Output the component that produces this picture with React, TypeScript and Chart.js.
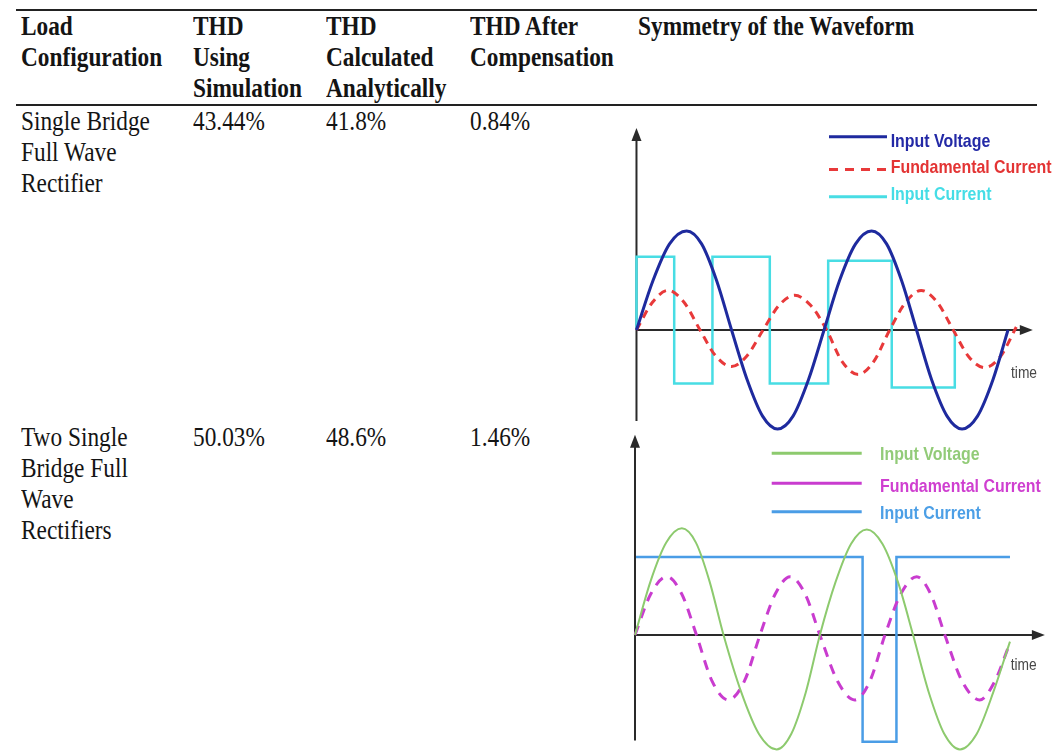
import React, { useEffect, useRef } from "react";
import { Chart, registerables } from "chart.js";

Chart.register(...registerables);

// ---------------- Table content ----------------
const headerCells: string[][] = [
  ["Load", "Configuration"],
  ["THD", "Using", "Simulation"],
  ["THD", "Calculated", "Analytically"],
  ["THD After", "Compensation"],
  ["Symmetry of the Waveform"],
];
const loadConfigurations: string[][] = [
  ["Single Bridge", "Full Wave", "Rectifier"],
  ["Two Single", "Bridge Full", "Wave", "Rectifiers"],
];
const thdSimulation = ["43.44%", "50.03%"];
const thdAnalytical = ["41.8%", "48.6%"];
const thdCompensated = ["0.84%", "1.46%"];

// ---------------- Waveform 1 (single bridge) ----------------
// x: phase in degrees of the input voltage, y: per-unit of voltage peak
const w1VoltageX = [0, 32, 64, 97, 126, 155, 184, 214, 244, 273, 303, 333, 363, 393, 424, 455, 484, 513, 542, 571, 601, 630, 660, 690, 719];
const w1VoltageY = [0, 0.5, 0.87, 1, 0.87, 0.5, 0, -0.5, -0.87, -1, -0.87, -0.5, 0, 0.5, 0.87, 1, 0.87, 0.5, 0, -0.5, -0.87, -1, -0.87, -0.5, 0];
const w1FundX = [0, 31, 61, 92, 123, 153, 184, 214, 245, 276, 306, 337, 368, 398, 429, 459, 490, 521, 551, 582, 613, 643, 674, 704, 735];
const w1FundY = [0, 0.28, 0.4, 0.28, 0, -0.26, -0.37, -0.26, 0, 0.25, 0.35, 0.25, 0, -0.32, -0.45, -0.32, 0, 0.28, 0.4, 0.28, 0, -0.27, -0.38, -0.27, 0.03];
const w1CurrentX = [0, 0, 73, 73, 147, 147, 258, 258, 371, 371, 494, 494, 616, 616];
const w1CurrentY = [0, 0.74, 0.74, -0.54, -0.54, 0.74, 0.74, -0.54, -0.54, 0.7, 0.7, -0.58, -0.58, 0];

// ---------------- Waveform 2 (two single bridges) ----------------
const w2VoltageX = [0, 30, 60, 90, 117, 143, 170, 204, 238, 272, 300, 328, 355, 385, 415, 445, 475, 505, 534, 564, 594, 624, 656, 688, 720];
const w2VoltageY = [0, 0.49, 0.84, 0.97, 0.84, 0.49, 0, -0.52, -0.9, -1.04, -0.9, -0.52, 0, 0.48, 0.83, 0.96, 0.83, 0.48, 0, -0.52, -0.9, -1.04, -0.9, -0.52, -0.06];
const w2FundX = [0, 30, 61, 90, 118, 148, 179, 210, 240, 269, 298, 327, 355, 389, 422, 451, 480, 510, 541, 568, 595, 628, 662, 691, 720];
const w2FundY = [0, 0.37, 0.53, 0.37, 0, -0.42, -0.59, -0.42, 0, 0.37, 0.53, 0.37, 0, -0.42, -0.59, -0.42, 0, 0.37, 0.53, 0.37, 0, -0.42, -0.59, -0.42, -0.07];
const w2CurrentX = [2, 437, 437, 502, 502, 720];
const w2CurrentY = [0.71, 0.71, -0.97, -0.97, 0.71, 0.71];

const seriesLabels = ["Input Voltage", "Fundamental Current", "Input Current"];
const timeLabel = "time";

// ---------------- Types ----------------
type Trace = { xs: number[]; ys: number[]; color: string; width: number; dash?: number[]; curved: boolean };
type Key = { color: string; textColor: string; dash?: number[]; width: number; lineY: number; textY: number };
type WaveProps = {
  left: number; top: number; width: number; height: number;
  xMin: number; xMax: number; yMin: number; yMax: number;
  yAxisFrom: number; yAxisTo: number; xAxisTo: number;
  traces: Trace[]; labels: string[]; keys: Key[];
  keyX0: number; keyX1: number; keyTextX: number;
  timeX: number; timeY: number;
};

const SANS = "'Liberation Sans', Arial, sans-serif";
const SERIF = "'Liberation Serif', 'Times New Roman', serif";

function drawSqueezed(ctx: CanvasRenderingContext2D, text: string, x: number, y: number, sx: number) {
  ctx.save();
  ctx.translate(x, y);
  ctx.scale(sx, 1);
  ctx.fillText(text, 0, 0);
  ctx.restore();
}

const wavePlugin = {
  id: "waveDecor",
  beforeDatasetsDraw(chart: any, _args: any, opts: any) {
    const { ctx, scales } = chart;
    const xs = scales.x, ys = scales.y;
    const x0 = xs.getPixelForValue(0);
    const y0 = ys.getPixelForValue(0);
    const yTop = ys.getPixelForValue(opts.yAxisTo);
    const yBot = ys.getPixelForValue(opts.yAxisFrom);
    const xEnd = xs.getPixelForValue(opts.xAxisTo);
    ctx.save();
    ctx.strokeStyle = "#2a2a2a";
    ctx.fillStyle = "#2a2a2a";
    ctx.lineWidth = 2;
    ctx.beginPath();
    ctx.moveTo(x0, yBot);
    ctx.lineTo(x0, yTop + 8);
    ctx.stroke();
    ctx.beginPath();
    ctx.moveTo(x0, yTop);
    ctx.lineTo(x0 - 5, yTop + 13);
    ctx.lineTo(x0 + 5, yTop + 13);
    ctx.closePath();
    ctx.fill();
    ctx.beginPath();
    ctx.moveTo(x0, y0);
    ctx.lineTo(xEnd - 8, y0);
    ctx.stroke();
    ctx.beginPath();
    ctx.moveTo(xEnd, y0);
    ctx.lineTo(xEnd - 13, y0 - 5);
    ctx.lineTo(xEnd - 13, y0 + 5);
    ctx.closePath();
    ctx.fill();
    ctx.restore();
  },
  afterDatasetsDraw(chart: any, _args: any, opts: any) {
    const { ctx } = chart;
    ctx.save();
    (opts.keys as Key[]).forEach((k, i) => {
      ctx.strokeStyle = k.color;
      ctx.lineWidth = k.width;
      ctx.setLineDash(k.dash || []);
      ctx.beginPath();
      ctx.moveTo(opts.keyX0, k.lineY);
      ctx.lineTo(opts.keyX1, k.lineY);
      ctx.stroke();
      ctx.setLineDash([]);
      ctx.fillStyle = k.textColor;
      ctx.font = `bold 18.5px ${SANS}`;
      ctx.textBaseline = "alphabetic";
      drawSqueezed(ctx, opts.labels[i], opts.keyTextX, k.textY, 0.86);
    });
    ctx.fillStyle = "#474747";
    ctx.font = `16px ${SANS}`;
    drawSqueezed(ctx, opts.timeText, opts.timeX, opts.timeY, 0.86);
    ctx.restore();
  },
};

function Waveform(p: WaveProps) {
  const ref = useRef<HTMLCanvasElement | null>(null);
  useEffect(() => {
    if (!ref.current) return;
    const chart = new Chart(ref.current, {
      type: "line",
      data: {
        datasets: p.traces.map((t, i) => ({
          label: p.labels[i],
          data: t.xs.map((x, j) => ({ x, y: t.ys[j] })),
          borderColor: t.color,
          borderWidth: t.width,
          borderDash: t.dash || [],
          pointRadius: 0,
          fill: false,
          clip: false as any,
          tension: t.curved ? 0.4 : 0,
          cubicInterpolationMode: t.curved ? "monotone" : "default",
          borderJoinStyle: "miter",
          borderCapStyle: "butt",
        })),
      },
      options: {
        responsive: false,
        animation: false,
        devicePixelRatio: 1,
        events: [],
        layout: { padding: 0 },
        scales: {
          x: { type: "linear", min: p.xMin, max: p.xMax, display: false },
          y: { type: "linear", min: p.yMin, max: p.yMax, display: false },
        },
        plugins: {
          legend: { display: false },
          tooltip: { enabled: false },
          waveDecor: {
            yAxisFrom: p.yAxisFrom, yAxisTo: p.yAxisTo, xAxisTo: p.xAxisTo,
            keys: p.keys, labels: p.labels, keyX0: p.keyX0, keyX1: p.keyX1, keyTextX: p.keyTextX,
            timeText: timeLabel, timeX: p.timeX, timeY: p.timeY,
          },
        } as any,
      },
      plugins: [wavePlugin as any],
    });
    return () => chart.destroy();
  }, []);
  return (
    <canvas
      ref={ref}
      width={p.width}
      height={p.height}
      style={{ position: "absolute", left: p.left, top: p.top, width: p.width, height: p.height }}
    />
  );
}

function TextBlock({ left, top, lines, bold }: { left: number; top: number; lines: string[]; bold?: boolean }) {
  return (
    <div
      style={{
        position: "absolute",
        left,
        top,
        fontFamily: SERIF,
        fontSize: "26.5px",
        lineHeight: "31px",
        fontWeight: bold ? 700 : 400,
        color: "#141414",
        whiteSpace: "nowrap",
        transform: "scaleX(0.88)",
        transformOrigin: "left top",
      }}
    >
      {lines.map((l, i) => (
        <div key={i}>{l}</div>
      ))}
    </div>
  );
}

const COLS = [21, 193, 326, 470, 638];
const ROW_TOPS = [105.5, 422];

export default function App() {
  return (
    <div style={{ position: "absolute", left: 0, top: 0, width: 1057, height: 755, background: "#fff", overflow: "hidden" }}>
      <div style={{ position: "absolute", left: 16, top: 9, width: 1021, height: 2, background: "#222" }} />
      <div style={{ position: "absolute", left: 16, top: 104, width: 1021, height: 2, background: "#222" }} />
      {headerCells.map((h, i) => (
        <TextBlock key={"h" + i} left={COLS[i]} top={10.5} lines={h} bold />
      ))}
      {loadConfigurations.map((lines, r) => (
        <React.Fragment key={"r" + r}>
          <TextBlock left={COLS[0]} top={ROW_TOPS[r]} lines={lines} />
          <TextBlock left={COLS[1]} top={ROW_TOPS[r]} lines={[thdSimulation[r]]} />
          <TextBlock left={COLS[2]} top={ROW_TOPS[r]} lines={[thdAnalytical[r]]} />
          <TextBlock left={COLS[3]} top={ROW_TOPS[r]} lines={[thdCompensated[r]]} />
        </React.Fragment>
      ))}
      <Waveform
        left={620} top={115} width={437} height={320}
        xMin={-31.9} xMax={813.8} yMin={-1.061} yMax={2.172}
        yAxisFrom={-0.92} yAxisTo={2.04} xAxisTo={767}
        traces={[
          { xs: w1VoltageX, ys: w1VoltageY, color: "#1e2a9e", width: 3, curved: true },
          { xs: w1FundX, ys: w1FundY, color: "#e8393a", width: 3, dash: [8, 6], curved: true },
          { xs: w1CurrentX, ys: w1CurrentY, color: "#48dde4", width: 2.5, curved: false },
        ]}
        labels={seriesLabels}
        keys={[
          { color: "#1e2a9e", textColor: "#2329a6", width: 3, lineY: 21.7, textY: 31.5 },
          { color: "#e8393a", textColor: "#e33434", width: 3, dash: [9, 7], lineY: 54.5, textY: 58.3 },
          { color: "#48dde4", textColor: "#45dde6", width: 3, lineY: 81.7, textY: 85 },
        ]}
        keyX0={209} keyX1={267} keyTextX={270.7}
        timeX={391} timeY={263.3}
      />
      <Waveform
        left={620} top={425} width={437} height={330}
        xMin={-28.8} xMax={810.3} yMin={-1.091} yMax={1.909}
        yAxisFrom={-0.96} yAxisTo={1.82} xAxisTo={787}
        traces={[
          { xs: w2VoltageX, ys: w2VoltageY, color: "#8dca6e", width: 2, curved: true },
          { xs: w2FundX, ys: w2FundY, color: "#c93ccf", width: 3, dash: [10, 8], curved: true },
          { xs: w2CurrentX, ys: w2CurrentY, color: "#4a9de6", width: 2.5, curved: false },
        ]}
        labels={seriesLabels}
        keys={[
          { color: "#8dca6e", textColor: "#92cb78", width: 3, lineY: 28.3, textY: 35 },
          { color: "#c93ccf", textColor: "#cf3fd0", width: 3, lineY: 58.3, textY: 66.7 },
          { color: "#4a9de6", textColor: "#4c9fe6", width: 3, lineY: 86.7, textY: 94 },
        ]}
        keyX0={151.7} keyX1={241.7} keyTextX={260}
        timeX={390.7} timeY={245}
      />
    </div>
  );
}
